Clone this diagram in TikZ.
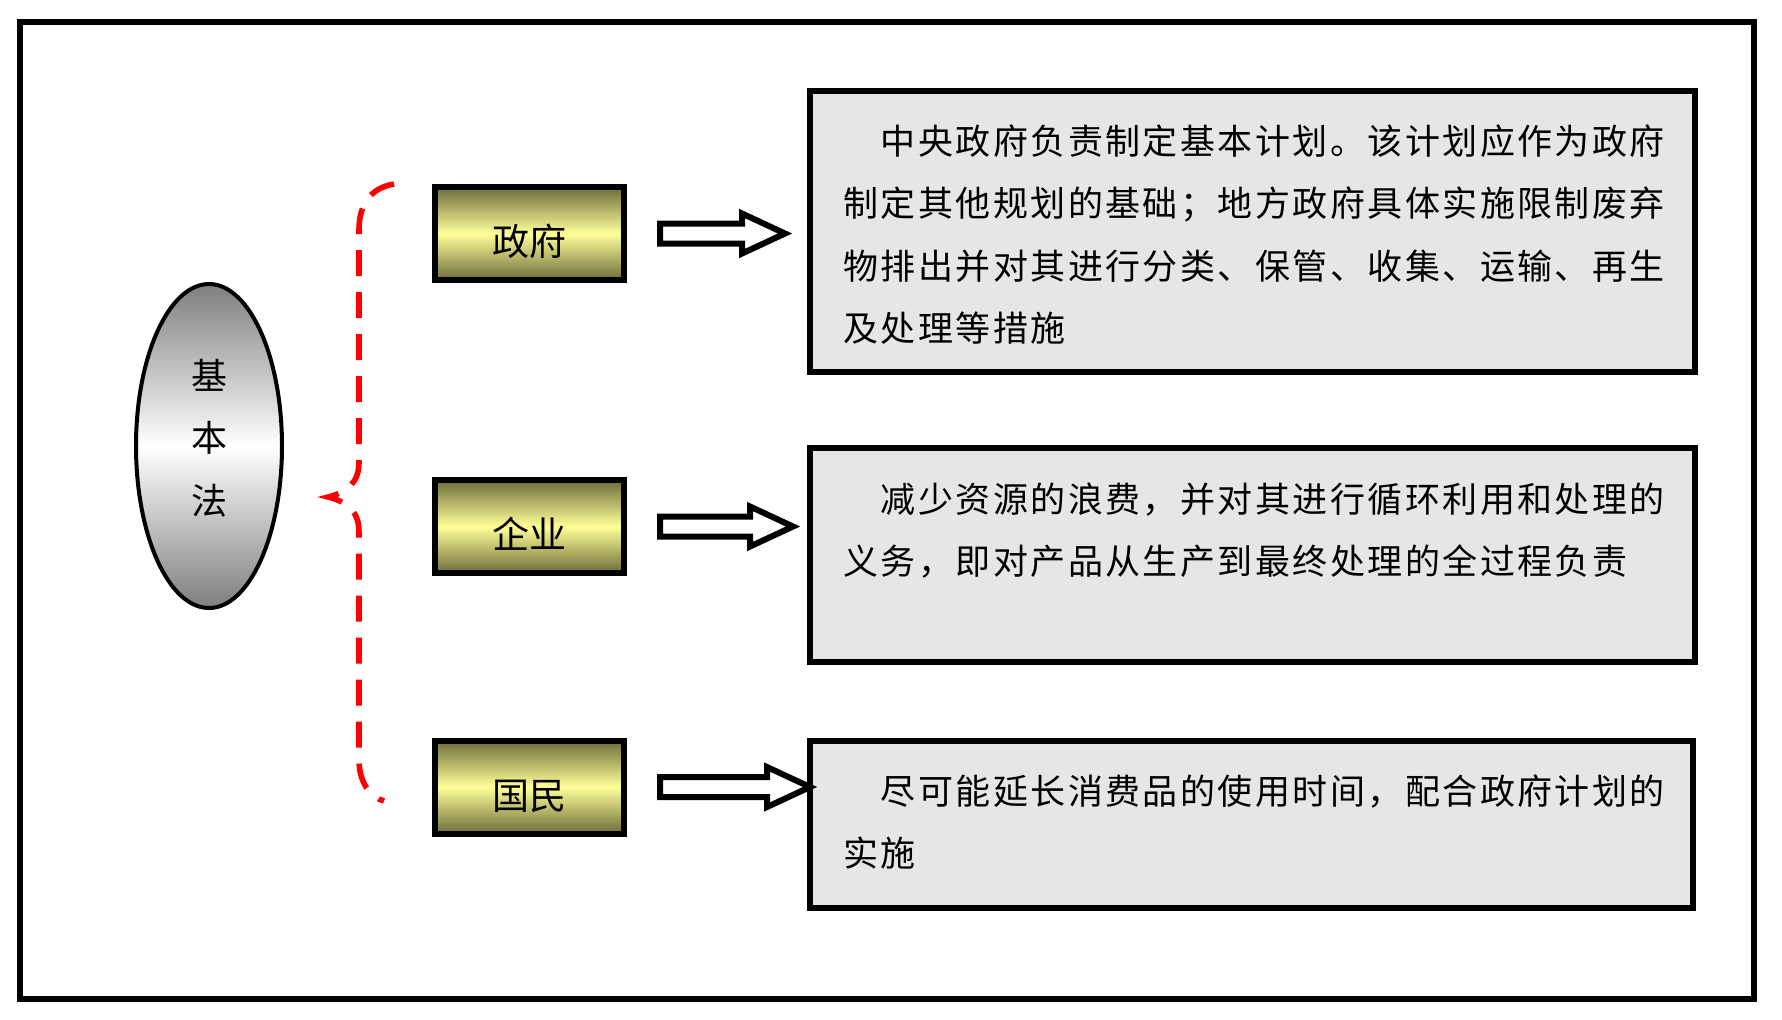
\documentclass[tikz,border=0pt]{standalone}
\usepackage{fontspec}
\setmainfont{Noto Sans CJK SC}
\newfontfamily\bodyfont[LetterSpace=7]{Noto Sans CJK SC}
\usetikzlibrary{calc,shapes.geometric}
\definecolor{boxdark}{HTML}{6C6C3A}
\definecolor{boxlight}{HTML}{FFFF99}
\definecolor{paper}{HTML}{E6E6E6}
\definecolor{lawgray}{HTML}{7E7E7E}
\tikzset{
  frame/.style={draw=black, line width=3pt},
  lawnode/.style={ellipse, draw=black, line width=2pt, minimum width=73pt, minimum height=162pt,
    top color=lawgray, bottom color=lawgray, middle color=white, inner sep=0pt},
  lawtext/.style={align=center, inner sep=0pt, font=\fontsize{18pt}{31.25pt}\selectfont},
  actor/.style={draw=black, line width=3pt, minimum width=94.5pt, minimum height=46.5pt,
    top color=boxdark, bottom color=boxdark, middle color=boxlight, inner sep=0pt,
    text height=22pt, text depth=0pt,
    font=\fontsize{18.5pt}{20pt}\selectfont},
  textbox/.style={draw=black, line width=3pt, fill=paper, minimum width=442.5pt, inner sep=0pt},
  bodytext/.style={anchor=north west, align=left, inner sep=0pt,
    font=\bodyfont\fontsize{17.5pt}{31.3pt}\selectfont},
  blockarrow/.style={draw=black, line width=3pt, fill=white, line join=miter},
  brace/.style={draw=red, line width=2.8pt, dash pattern=on 13pt off 8pt, line cap=butt}
}
\newcommand\hollowarrow[3]{%
  \draw[blockarrow] ($(#1.east)+(33,-10)$) -- ($(#2.west|-#1.east)+(#3-43,-10)$)
    -- ($(#2.west|-#1.east)+(#3-43,-20)$) -- ($(#2.west|-#1.east)+(#3,0)$)
    -- ($(#2.west|-#1.east)+(#3-43,20)$) -- ($(#2.west|-#1.east)+(#3-43,10)$)
    -- ($(#1.east)+(33,10)$) -- cycle;}
\begin{document}
\begin{tikzpicture}[x=0.5pt,y=-0.5pt]
\useasboundingbox (0,0) rectangle (1782,1019);
\fill[white] (0,0) rectangle (1782,1019);
\draw[frame] (20,22) rectangle (1754,999);

\node[lawnode] (law) at (209,446) {};
\node[lawtext] (lawtxt) at (209,438) {基\\本\\法};

\draw[brace] (394,184) .. controls (370,188) and (359,205) .. (359,230)
  -- (359,462) .. controls (359,482) and (348,492) .. (328,497)
  .. controls (348,502) and (359,512) .. (359,532)
  -- (359,760) .. controls (359,782) and (370,797) .. (384,801);

\node[actor] (gov) at (529.5,233.5) {政府};
\node[actor] (corp) at (529.5,526.5) {企业};
\node[actor] (folk) at (529.5,787) {国民};

\node[textbox, minimum height=140.5pt] (t1) at (1252.5,231.5) {};
\node[textbox, minimum height=107pt] (t2) at (1252.5,555) {};
\node[textbox, minimum width=441.5pt, minimum height=83.5pt] (t3) at (1251.5,824.5) {};

\node[bodytext] (t1txt) at (843,124) {　中央政府负责制定基本计划。该计划应作为政府\\制定其他规划的基础；地方政府具体实施限制废弃\\物排出并对其进行分类、保管、收集、运输、再生\\及处理等措施};
\node[bodytext] (t2txt) at (843,482) {　减少资源的浪费，并对其进行循环利用和处理的\\义务，即对产品从生产到最终处理的全过程负责};
\node[bodytext] (t3txt) at (843,774) {　尽可能延长消费品的使用时间，配合政府计划的\\实施};

\hollowarrow{gov}{t1}{-22}
\hollowarrow{corp}{t2}{-14}
\hollowarrow{folk}{t3}{3}
\end{tikzpicture}
\end{document}
